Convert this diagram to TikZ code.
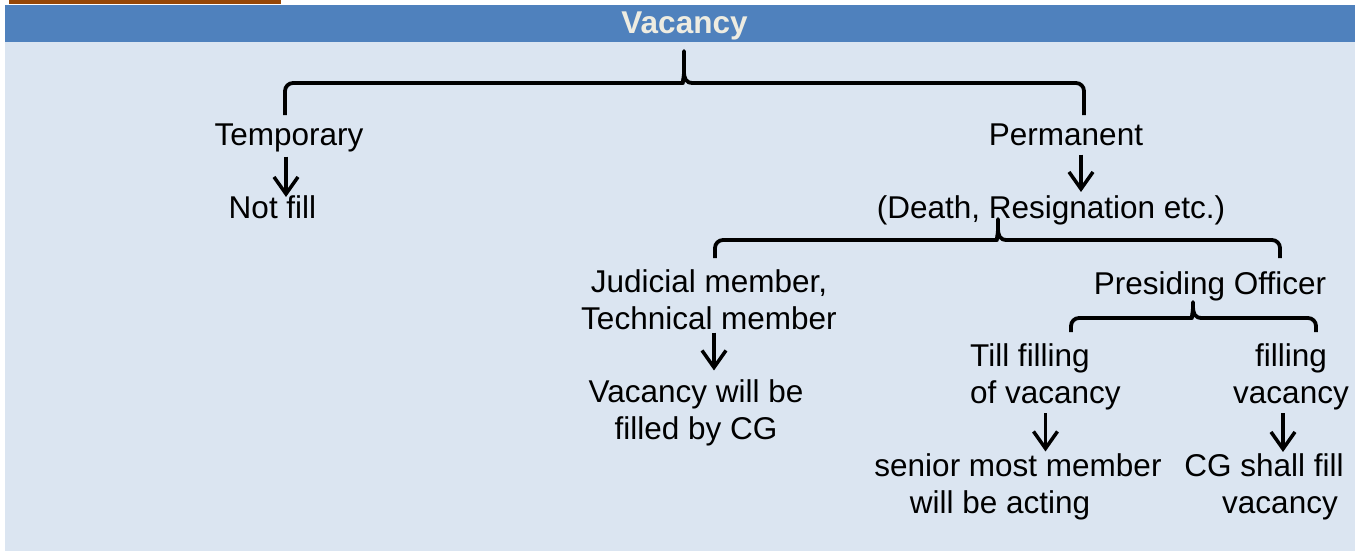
\documentclass[tikz,border=0pt]{standalone}
\usepackage{fontspec}
\setmainfont{Liberation Sans}
\usetikzlibrary{arrows.meta}
\definecolor{hdr}{HTML}{4F81BD}
\definecolor{bodyc}{HTML}{DBE5F1}
\definecolor{ttl}{HTML}{EEECE1}
\definecolor{orng}{HTML}{974706}
\newcommand\vbrace[6]{%
  \draw[brc] [rounded corners=8pt] (#1,#6) |- (#4-9,#3) [sharp corners]
    .. controls (#4-2,#3) and (#4,#3-4) .. (#4,#3-12) -- (#4,#5) -- (#4,#3-12)
    .. controls (#4,#3-4) and (#4+2,#3) .. (#4+9,#3) [rounded corners=8pt] -| (#2,#6);}
\begin{document}
\begin{tikzpicture}[x=1pt,y=-1pt,
  txt/.style={inner sep=0pt, font=\fontsize{31.5}{36.5}\selectfont, anchor=base},
  ttlstyle/.style={inner sep=0pt, font=\fontsize{31.5}{36.5}\selectfont\bfseries, text=ttl, anchor=base},
  arr/.style={line width=3.5pt, -{Straight Barb[length=17pt,width=24pt]}},
  brc/.style={line width=3.8pt, line join=round}]
\useasboundingbox (0,0) rectangle (1363,551);
\fill[white] (0,0) rectangle (1363,551);
\fill[orng] (9,0.5) rectangle (281,4.5);
\fill[bodyc] (5,42) rectangle (1355,551);
\fill[hdr] (5,5) rectangle (1355,42);
\node[ttlstyle] (title) at (684.5,34) {Vacancy};
% braces
\vbrace{285}{1084}{83}{684}{51}{115}
\vbrace{715}{1280}{240}{998}{219}{258}
\vbrace{1071}{1316}{318}{1193}{302}{332}
% texts
\node[txt] (temp) at (289,145) {Temporary};
\node[txt] (nf) at (272.5,218) {Not fill};
\node[txt] (perm) at (1066,145) {Permanent};
\node[txt] (death) at (1051,218) {(Death, Resignation etc.)};
\node[txt, align=center] (jud) at (709,329) {Judicial member,\\Technical member};
\node[txt, align=center] (vac) at (696,439) {Vacancy will be\\filled by CG};
\node[txt] (po) at (1210,294) {Presiding Officer};
\node[txt, align=left, anchor=base west] (till) at (970,403) {Till filling\\of vacancy};
\node[txt, align=center] (fill) at (1291,403) {filling\\vacancy};
\node[txt, align=center] (sen) at (1018,513) {senior most member\\will be acting\hspace*{36pt}};
\node[txt, align=center] (cgs) at (1280,513) {CG shall fill\hspace*{32pt}\\vacancy};
% arrows
\draw[arr] ([xshift=-3pt,yshift=-5pt]temp.south) -- ([xshift=-3pt,yshift=-2pt]temp.south |- nf.north);
\draw[arr] ([xshift=15pt,yshift=-9pt]perm.south) -- ([xshift=15pt,yshift=3pt]perm.south |- death.north);
\draw[arr] ([xshift=5pt,yshift=-3pt]jud.south) -- ([xshift=5pt,yshift=9pt]jud.south |- vac.north);
\draw[arr] ([yshift=-3.5pt]till.south) -- ([yshift=2pt]till.south |- sen.north);
\draw[arr] ([xshift=-8pt,yshift=-3.5pt]fill.south) -- ([xshift=-8pt,yshift=1.5pt]fill.south |- cgs.north);
\end{tikzpicture}
\end{document}
